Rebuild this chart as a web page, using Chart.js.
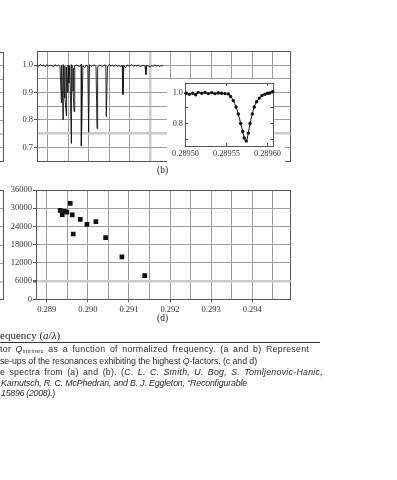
<!DOCTYPE html>
<html><head><meta charset="utf-8">
<script src="https://cdn.jsdelivr.net/npm/chart.js@4.4.1/dist/chart.umd.min.js"></script>
<style>
html,body{margin:0;padding:0;background:#fff;width:397px;height:480px;overflow:hidden;position:relative}
canvas{position:absolute}
.t{position:absolute;white-space:nowrap;color:#222}
.serif{font-family:"Liberation Serif","DejaVu Serif",serif}
.cap{font-family:"Liberation Sans",Arial,sans-serif;font-size:8.8px;line-height:10.7px;color:#2a2a2a}
.ln{position:absolute;background:#555}
</style></head><body>
<div id="rem"></div>
<canvas id="topc" width="300" height="135" style="left:0;top:40px"></canvas>
<canvas id="inset" width="118" height="83" style="left:167px;top:79px"></canvas>
<canvas id="botc" width="300" height="135" style="left:0;top:180px"></canvas>
<div class="t serif" style="left:157px;top:165px;font-size:9.5px">(b)</div>
<div class="t serif" style="left:157px;top:313px;font-size:9.5px">(d)</div>
<div class="t serif" style="left:0;top:328.5px;font-size:11px">equency (<i>a</i>/<i>λ</i>)</div>
<div class="ln" style="left:0;top:342px;width:320px;height:1px;background:#333"></div>
<div class="t cap" style="left:0;top:343.6px">
<div><span data-w="309">tor <i>Q</i><sub style="font-size:5.5px;vertical-align:-1px">intrinsic</sub> as a function of normalized frequency. (a and b) Represent</span></div>
<div><span data-w="257">se-ups of the resonances exhibiting the highest <i>Q</i>-factors. (c and d)</span></div>
<div><span data-w="323">e spectra from (a) and (b). (<i>C. L. C. Smith, U. Bog, S. Tomljenovic-Hanic,</i></span></div>
<div style="padding-left:1px"><span data-w="246"><i>Karnutsch, R. C. McPhedran, and B. J. Eggleton, “Reconfigurable</i></span></div>
<div style="padding-left:1px"><span data-w="54"><i>15896 (2008).</i>)</span></div>
</div>
<script>
// ---------- data ----------
// (b) transmission spectrum: baseline samples on a regular frequency grid + resonance dips
const spectrumStart = 0.28874;
const spectrumStep = 0.00004;
const spectrumBaseline = [
 1.000,0.996,1.003,0.997,1.001,0.995,1.002,0.996,1.000,0.998,
 0.994,1.002,0.997,1.001,0.995,0.999,1.002,0.996,0.993,1.000,
 0.997,1.002,0.989,0.998,1.001,0.998,0.995,1.003,0.997,0.991,
 1.000,0.997,1.002,0.995,0.999,1.001,0.996,0.993,1.000,0.998,
 0.995,1.001,0.999,0.994,1.002,0.997,1.000,0.996,1.001,0.995,
 0.999,0.994,1.000,0.998,0.991,1.001,0.997,0.999,1.002,0.996,
 0.999,0.997,1.001,0.995,0.998,1.000,0.996,0.999,0.997,0.993,
 0.998,0.996,1.001,0.997,0.999,0.994,1.000,0.997];
const dipFreq = [0.289334,0.289355,0.289376,0.289405,0.289420,0.289456,0.289493,0.289515,0.289578,
                 0.289620,0.289644,0.289822,0.290000,0.290205,0.290432,0.290839,0.291400];
const dipMin  = [0.862,0.925,0.800,0.895,0.880,0.815,0.900,0.935,0.714,
                 0.905,0.830,0.705,0.755,0.769,0.812,0.893,0.966];

// (b) inset: close-up of the highest-Q resonance
const insetFreq = [0.2895006,0.2895046,0.2895088,0.2895124,0.2895156,0.2895198,0.2895238,0.2895278,
  0.2895320,0.2895360,0.2895400,0.2895441,0.2895482,0.2895522,0.2895551,0.2895583,0.2895616,0.2895644,
  0.2895673,0.2895698,0.2895717,0.2895741,0.2895766,0.2895787,0.2895815,0.2895839,0.2895868,0.2895900,
  0.2895933,0.2895970,0.2896002,0.2896030,0.2896063];
const insetT = [0.994,0.988,0.994,0.984,1.000,0.994,1.000,0.992,0.998,0.992,0.996,0.994,0.992,0.990,
  0.973,0.947,0.906,0.861,0.800,0.748,0.706,0.687,0.738,0.800,0.861,0.906,0.939,0.963,0.980,0.988,
  0.994,0.996,1.004];
const insetXTicks = [0.28950,0.28955,0.28960];
const insetYTicks = [0.7,0.8,0.9,1.0];

// (d) Q factor vs normalized frequency
const qFreq  = [0.289327,0.289376,0.289432,0.289488,0.289571,0.289620,0.289644,0.289815,0.289976,
                0.290195,0.290432,0.290829,0.291383];
const qValue = [29300,27900,29000,28700,31600,27800,21500,26300,24700,25600,20300,14000,7800];
const qYTicks = [0,6000,12000,18000,24000,30000,36000];

// shared frequency axis
const freqMin = 0.288737, freqMax = 0.294937;
const freqGridTicks = [0.2885,0.2890,0.2895,0.2900,0.2905,0.2910,0.2915,0.2920,0.2925,0.2930,0.2935,0.2940,0.2945,0.2950];
const transYTicks = [0.65,0.70,0.75,0.80,0.85,0.90,0.95,1.00,1.05];

// ---------- style ----------
const GRID = '#9c9c9c', THICK = '#cacaca', BORDER = '#555', TXT = '#333';
const FONT = {family:'"Liberation Serif","DejaVu Serif",serif', size:8.5};
const near = (a,b) => Math.abs(a-b) < 1e-9;

function setTicks(vals, lo, hi){
  return (s) => { s.ticks = [lo].concat(vals.filter(v => v > lo + 1e-12 && v < hi - 1e-12), [hi]).map(v => ({value:v})); };
}
function fitTo(prop, val){
  return (s) => { s[prop] = val; s.paddingTop = 0; s.paddingBottom = 0; s.paddingLeft = 0; s.paddingRight = 0; };
}
function gridColor(thick){
  return (c) => {
    const n = c.scale.ticks.length;
    if (c.index === 0 || c.index === n-1) return BORDER;
    if (thick !== null && c.tick && near(c.tick.value, thick)) return THICK;
    return GRID;
  };
}
function gridWidth(thick){
  return (c) => (thick !== null && c.tick && near(c.tick.value, thick)) ? 2.5 : 1;
}
const baseOpts = {responsive:false, animation:false, events:[],
  plugins:{legend:{display:false}, tooltip:{enabled:false}}};

// ---------- (b) main spectrum ----------
const specPts = spectrumBaseline.map((v,i) => ({x: spectrumStart + i*spectrumStep, y: v}))
  .concat(dipFreq.map((f,i) => ({x: f, y: dipMin[i]})))
  .sort((a,b) => a.x - b.x);

new Chart(document.getElementById('topc'), {
  type:'line',
  data:{datasets:[{data:specPts, borderColor:'#111', borderWidth:0.9, pointRadius:0, tension:0}]},
  options:Object.assign({}, baseOpts, {
    layout:{padding:{top:11.5, right:9.5, left:0, bottom:0}},
    scales:{
      x:{type:'linear', min:freqMin, max:freqMax,
         afterBuildTicks:setTicks(freqGridTicks, freqMin, freqMax),
         afterFit:fitTo('height', 14),
         ticks:{display:false, autoSkip:false},
         grid:{color:gridColor(0.2915), lineWidth:gridWidth(0.2915), drawTicks:false},
         border:{color:BORDER, width:1}},
      y:{type:'linear', min:0.65, max:1.05,
         afterBuildTicks:setTicks(transYTicks, 0.65, 1.05),
         afterFit:fitTo('width', 37),
         ticks:{autoSkip:false, font:FONT, color:TXT, padding:1,
                callback:(v)=> Math.round(v*100)%10===0 ? v.toFixed(1) : ''},
         grid:{color:gridColor(0.75), lineWidth:gridWidth(0.75), tickLength:3,
               tickColor:(c)=> (c.tick && Math.round(c.tick.value*100)%10===0 && c.tick.value<1.04) ? BORDER : 'rgba(0,0,0,0)'},
         border:{color:BORDER, width:1}}
    }
  })
});

// ---------- (b) inset ----------
const insetBg = {id:'insetBg', beforeDraw(c){
  const {ctx, chartArea:a, width, height} = c;
  ctx.save(); ctx.fillStyle = '#fff';
  ctx.fillRect(0, 0, a.right + 1, height);
  ctx.fillRect(0, a.bottom, width, height - a.bottom);
  ctx.restore();
}};
const inXMin = 0.2894994, inXMax = 0.2896071, inYMin = 0.655, inYMax = 1.06;
const inTickGrid = {drawOnChartArea:false, tickLength:-3, color:BORDER, tickColor:BORDER};
const inFont = {family:FONT.family, size:8.3};
new Chart(document.getElementById('inset'), {
  type:'line',
  data:{datasets:[{data:insetFreq.map((f,i)=>({x:f, y:insetT[i]})), borderColor:'#111', borderWidth:1,
    pointRadius:1.7, pointBackgroundColor:'#111', pointBorderWidth:0, cubicInterpolationMode:'monotone', clip:false}]},
  options:Object.assign({}, baseOpts, {
    layout:{padding:{top:1, right:11.7, left:0, bottom:0}},
    scales:{
      x:{type:'linear', position:'bottom', min:inXMin, max:inXMax,
         afterBuildTicks:(s)=>{s.ticks = insetXTicks.map(v=>({value:v}));},
         afterFit:fitTo('height', 16),
         ticks:{autoSkip:false, maxRotation:0, font:inFont, color:TXT, padding:6,
                callback:(v)=> v.toFixed(5)},
         grid:inTickGrid, border:{color:BORDER, width:1}},
      x2:{type:'linear', position:'top', min:inXMin, max:inXMax,
         afterBuildTicks:(s)=>{s.ticks = insetXTicks.map(v=>({value:v}));},
         afterFit:fitTo('height', 0),
         ticks:{display:false}, grid:inTickGrid, border:{color:BORDER, width:1}},
      y:{type:'linear', position:'left', min:inYMin, max:inYMax,
         afterBuildTicks:(s)=>{s.ticks = insetYTicks.map(v=>({value:v}));},
         afterFit:fitTo('width', 18),
         ticks:{autoSkip:false, font:inFont, color:TXT, padding:5,
                callback:(v)=> (near(v,0.8)||near(v,1.0)) ? v.toFixed(1) : ''},
         grid:inTickGrid, border:{color:BORDER, width:1}},
      y2:{type:'linear', position:'right', min:inYMin, max:inYMax,
         afterBuildTicks:(s)=>{s.ticks = insetYTicks.map(v=>({value:v}));},
         afterFit:fitTo('width', 0),
         ticks:{display:false}, grid:inTickGrid, border:{color:BORDER, width:1}}
    }
  }),
  plugins:[insetBg]
});

// ---------- (d) Q factor ----------
new Chart(document.getElementById('botc'), {
  type:'scatter',
  data:{datasets:[{data:qFreq.map((f,i)=>({x:f, y:qValue[i]})), pointStyle:'rect', pointRadius:3.3,
    backgroundColor:'#111', borderColor:'#111', borderWidth:0}]},
  options:Object.assign({}, baseOpts, {
    layout:{padding:{top:10, right:9.3, left:0, bottom:0}},
    scales:{
      x:{type:'linear', min:freqMin, max:freqMax,
         afterBuildTicks:setTicks(freqGridTicks, freqMin, freqMax),
         afterFit:fitTo('height', 15.7),
         ticks:{autoSkip:false, maxRotation:0, font:FONT, color:TXT, padding:2,
                callback:(v)=> Math.round(v*10000)%10===0 ? v.toFixed(3) : ''},
         grid:{color:gridColor(null), lineWidth:1, tickLength:3,
               tickColor:(c)=> (c.tick && Math.round(c.tick.value*10000)%10===0 && c.index>0) ? BORDER : 'rgba(0,0,0,0)'},
         border:{color:BORDER, width:1}},
      y:{type:'linear', min:0, max:36000,
         afterBuildTicks:(s)=>{s.ticks = qYTicks.map(v=>({value:v}));},
         afterFit:fitTo('width', 36),
         ticks:{autoSkip:false, font:FONT, color:TXT, padding:1, callback:(v)=> String(v)},
         grid:{color:gridColor(6000), lineWidth:gridWidth(6000), tickLength:3, tickColor:BORDER},
         border:{color:BORDER, width:1}}
    }
  })
});

// ---------- cut-off edges of panels (a) and (c) ----------
(function(){
  const rem = document.getElementById('rem');
  function line(l,t,w,h,c){ const d=document.createElement('div'); d.className='ln';
    d.style.cssText='left:'+l+'px;top:'+t+'px;width:'+w+'px;height:'+h+'px;background:'+c; rem.appendChild(d); }
  line(3,52,1,109,BORDER);
  [52,161].forEach(y=>line(0,y,4,1,BORDER));
  [65,78.5,92,106,120,147].forEach(y=>line(0,y,3,1,GRID));
  line(0,133,3,2,THICK);
  line(3,190,1,110,BORDER);
  [190,299].forEach(y=>line(0,y,4,1,BORDER));
  [208,226,244.5,262.5].forEach(y=>line(0,y,3,1,GRID));
  line(0,280.5,3,2,THICK);
})();

// ---------- fit caption line widths to the reference ----------
document.querySelectorAll('.cap span[data-w]').forEach(s => {
  const target = +s.dataset.w;
  const w = s.getBoundingClientRect().width;
  const diff = target - w;
  const n = s.textContent.length;
  const spaces = (s.textContent.match(/ /g) || []).length;
  if (diff > 0 && spaces > 0) {
    s.style.letterSpacing = (diff * 0.5 / n).toFixed(3) + 'px';
    s.style.wordSpacing = (diff * 0.5 / spaces).toFixed(3) + 'px';
  } else if (diff < 0) s.style.letterSpacing = (diff / n).toFixed(3) + 'px';
});
</script>
</body></html>
